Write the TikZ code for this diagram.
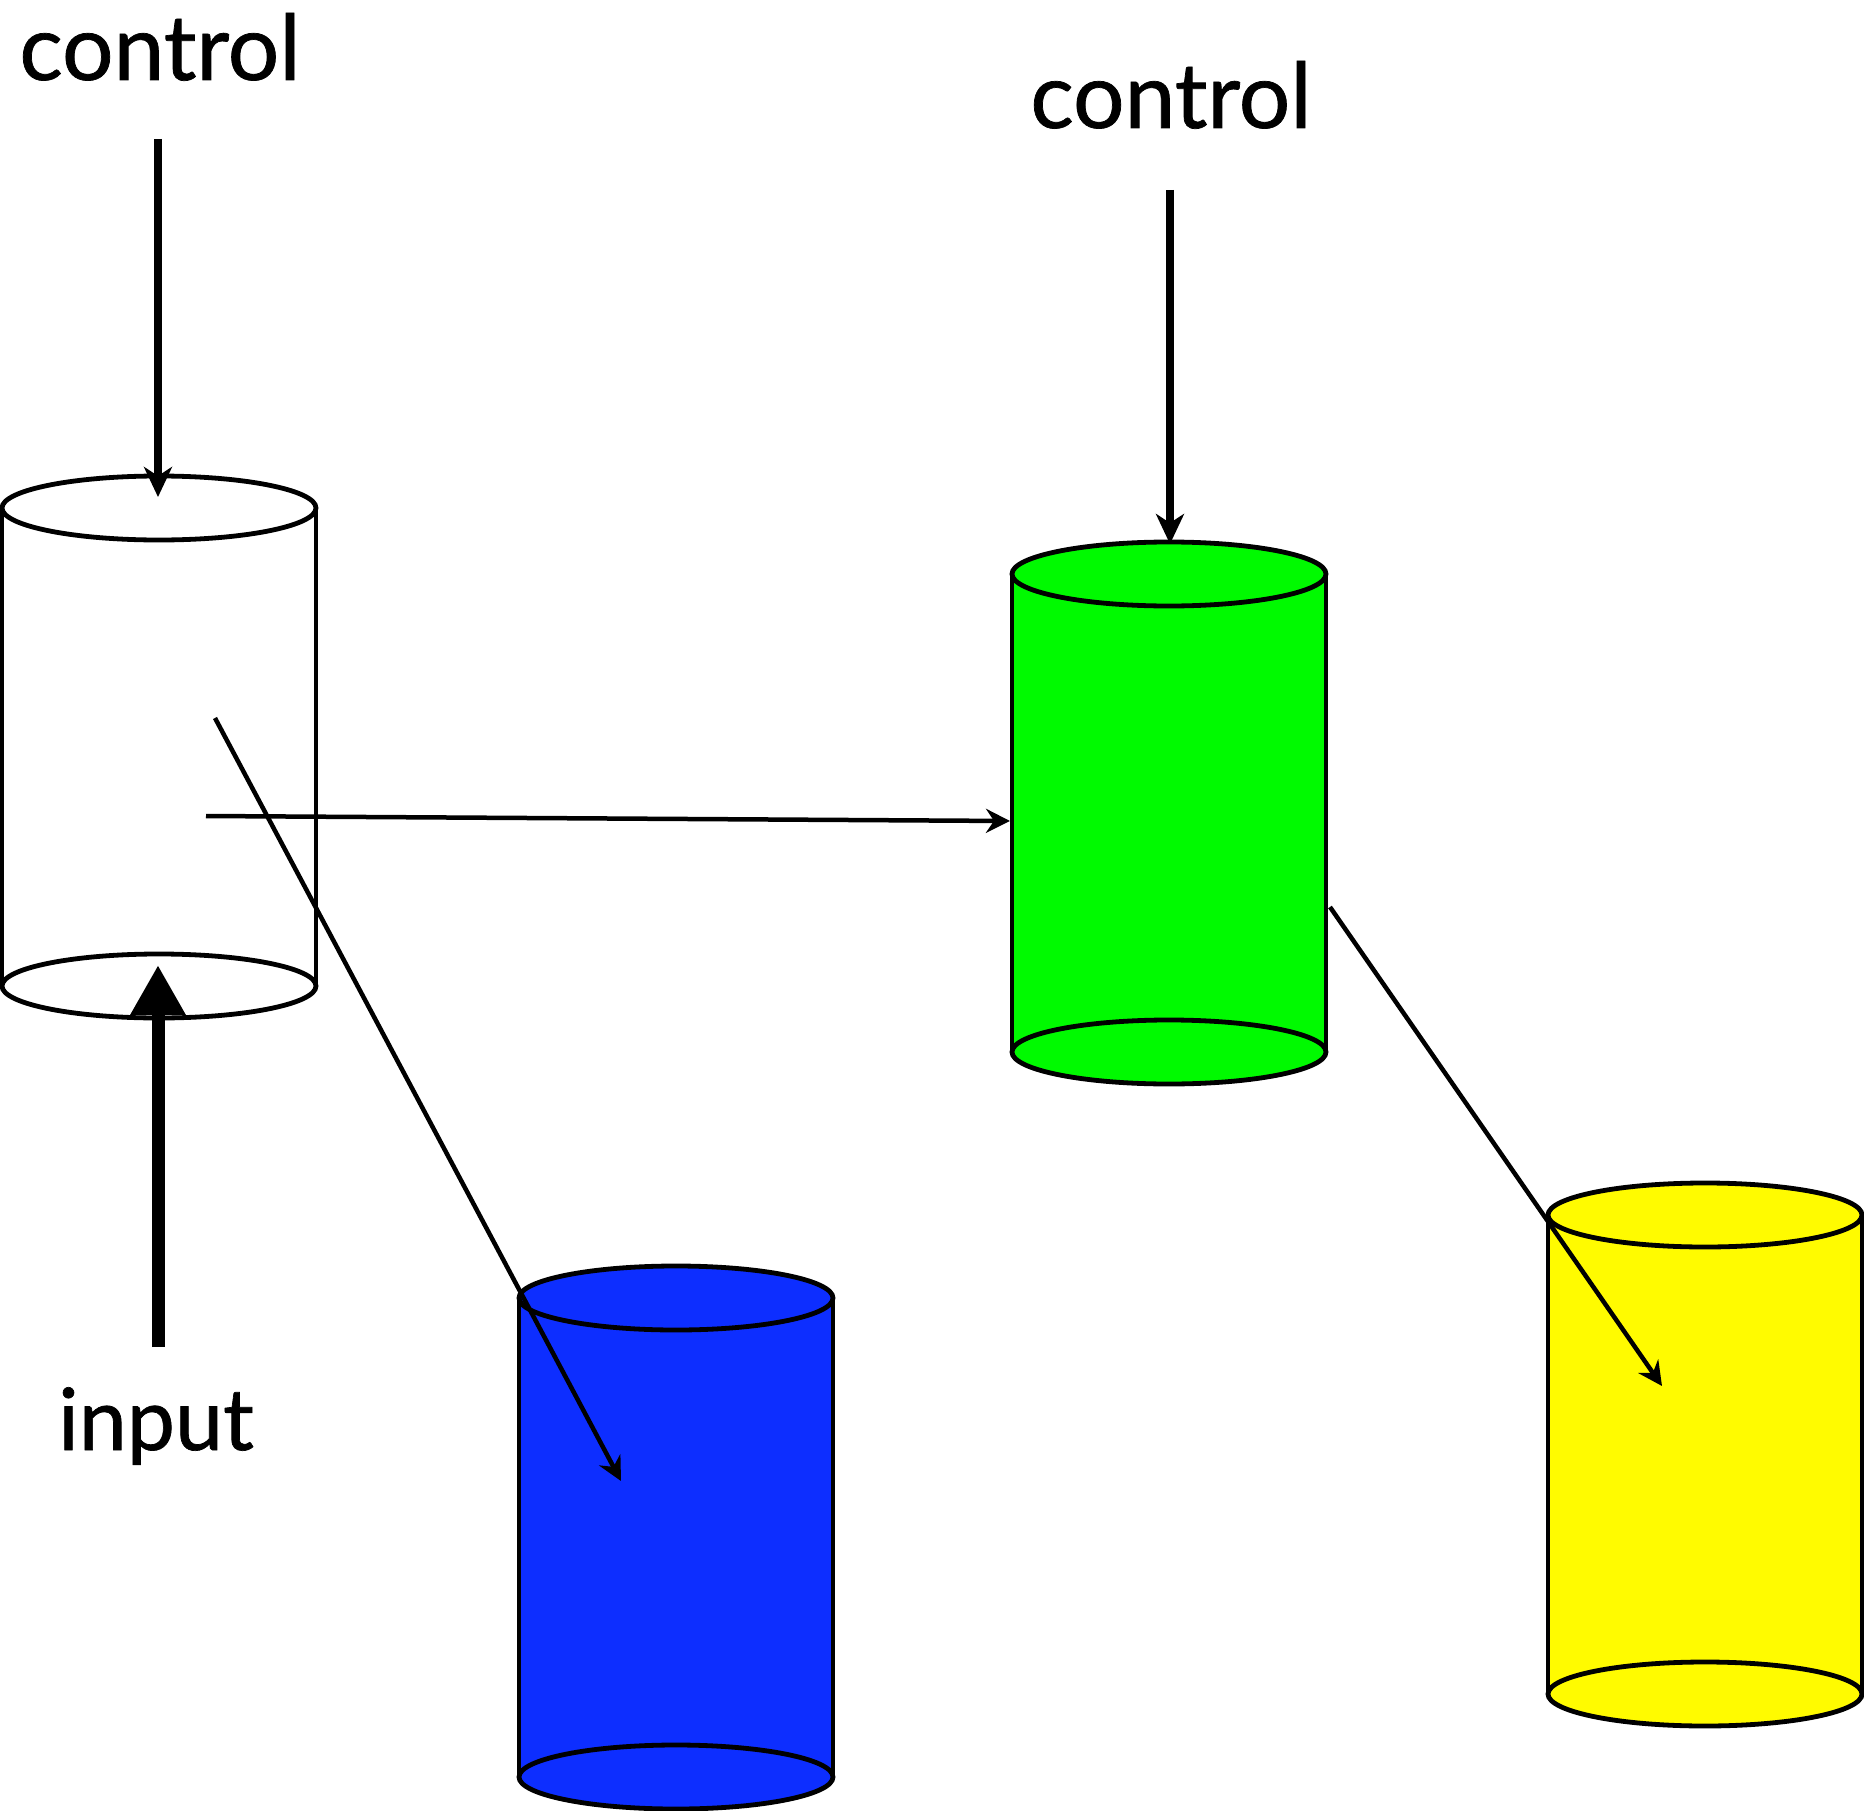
\documentclass[tikz,border=0pt]{standalone}
\usepackage{fontspec}
\setmainfont{Lato}
\newfontfamily\lblfont[FakeBold=0.8]{Lato}
\usetikzlibrary{arrows.meta}
\definecolor{cylgreen}{RGB}{0,250,0}
\definecolor{cylblue}{RGB}{13,46,255}
\definecolor{cylyellow}{RGB}{255,251,0}
\newcommand\drawcyl[5]{%
  \fill[#4] (#1-157,#2) rectangle (#1+157,#3);
  \filldraw[fill=#4,outline] (#1,#3) ellipse[x radius=157,y radius=32];
  \draw[outline] (#1-157,#2) -- (#1-157,#3) (#1+157,#2) -- (#1+157,#3);
  \filldraw[fill=#4,outline] (#1,#2) ellipse[x radius=157,y radius=32];
  \coordinate (#5) at (#1,#2);
}
\begin{document}
\begin{tikzpicture}[x=1pt,y=-1pt,
  outline/.style={draw=black,line width=4.8pt},
  thinarrow/.style={line width=4.5pt,-{Stealth[length=24pt,width=24pt,inset=8pt]}},
  controlarrow/.style={line width=7.5pt,-{Stealth[length=30pt,width=28pt,inset=9pt]}},
  inputarrow/.style={line width=13pt,-{Triangle[length=50pt,width=52pt]}},
  lbl/.style={inner sep=0pt,anchor=base}]
\useasboundingbox (0,0) rectangle (1864,1811);

% cylinders
\drawcyl{159}{508}{986}{white}{cylW}
\drawcyl{1169}{574}{1052}{cylgreen}{cylG}
\drawcyl{676}{1298}{1777}{cylblue}{cylB}
\drawcyl{1705}{1215}{1694}{cylyellow}{cylY}

% labels
\node[lbl,font=\lblfont\fontsize{91}{96}\selectfont] (ctlA) at (160,80) {control};
\node[lbl,font=\lblfont\fontsize{91}{96}\selectfont] (ctlB) at (1171,128) {control};
\node[lbl,font=\lblfont\fontsize{86}{92}\selectfont] (inp) at (156,1450) {input};

% connector end points
\coordinate (aS) at (158,139);
\coordinate (aT) at (158,497);
\coordinate (bS) at (1170,190);
\coordinate (bT) at (1170,544);
\coordinate (iS) at (158,1347);
\coordinate (iT) at (158,965);
\coordinate (hS) at (206,816);
\coordinate (hT) at (1010,821);
\coordinate (dS) at (215,718);
\coordinate (dT) at (621,1481);
\coordinate (gS) at (1330,907);
\coordinate (gT) at (1662,1386);

% connectors
\draw[controlarrow] (aS) -- (aT);
\draw[controlarrow] (bS) -- (bT);
\draw[inputarrow] (iS) -- (iT);
\draw[thinarrow] (hS) -- (hT);
\draw[thinarrow] (dS) -- (dT);
\draw[thinarrow] (gS) -- (gT);
\end{tikzpicture}
\end{document}
